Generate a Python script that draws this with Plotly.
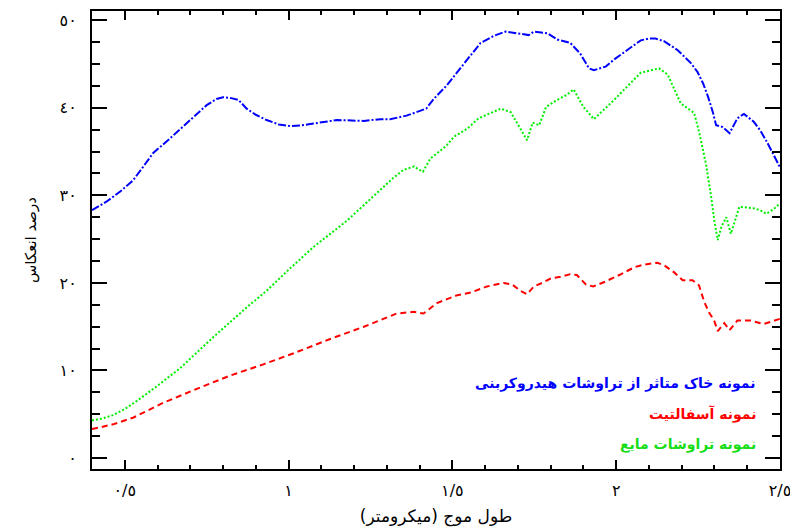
import plotly.graph_objects as go

# Reflectance spectra (wavelength in micrometres, reflectance in percent)
soil_wl = [0.400, 0.445, 0.485, 0.525, 0.555, 0.586, 0.638, 0.700, 0.750, 0.780,
           0.800, 0.825, 0.847, 0.872, 0.900, 0.933, 0.970, 1.005, 1.040, 1.076,
           1.148, 1.230, 1.280, 1.310, 1.342, 1.360, 1.390, 1.420, 1.443, 1.470,
           1.484, 1.524, 1.555, 1.586, 1.626, 1.662, 1.698, 1.733, 1.749, 1.790,
           1.820, 1.860, 1.890, 1.905, 1.917, 1.932, 1.968, 1.993, 2.034, 2.075,
           2.100, 2.120, 2.146, 2.187, 2.228, 2.248, 2.265, 2.280, 2.295, 2.305,
           2.325, 2.346, 2.370, 2.390, 2.420, 2.440, 2.463, 2.500]
soil_refl = [28.3, 29.3, 30.4, 31.7, 33.2, 34.8, 36.5, 38.6, 40.3, 41.0,
             41.2, 41.1, 40.9, 39.9, 39.2, 38.6, 38.1, 37.9, 38.0, 38.2,
             38.6, 38.5, 38.7, 38.7, 39.0, 39.1, 39.5, 39.9, 41.0, 42.0,
             42.6, 44.5, 46.0, 47.4, 48.2, 48.7, 48.5, 48.3, 48.7, 48.5,
             47.8, 47.4, 46.2, 45.3, 44.5, 44.3, 44.7, 45.5, 46.6, 47.7,
             47.9, 47.9, 47.6, 46.6, 45.1, 44.1, 42.8, 41.3, 39.5, 38.0,
             37.8, 37.1, 38.8, 39.3, 38.4, 37.4, 35.9, 33.2]

asph_wl = [0.400, 0.464, 0.525, 0.617, 0.720, 0.820, 0.923, 1.025, 1.127, 1.230,
           1.330, 1.382, 1.412, 1.453, 1.515, 1.556, 1.606, 1.657, 1.683, 1.708,
           1.728, 1.749, 1.774, 1.800, 1.830, 1.860, 1.880, 1.908, 1.930, 1.964,
           2.015, 2.056, 2.086, 2.126, 2.147, 2.177, 2.203, 2.233, 2.253, 2.269,
           2.284, 2.299, 2.310, 2.330, 2.346, 2.370, 2.410, 2.450, 2.500]
asph_refl = [3.3, 3.85, 4.6, 6.3, 7.9, 9.4, 10.7, 12.1, 13.6, 15.0,
             16.5, 16.7, 16.5, 17.7, 18.6, 18.9, 19.6, 20.0, 19.8, 19.1,
             18.7, 19.6, 20.0, 20.5, 20.7, 21.0, 20.9, 19.8, 19.6, 20.1,
             21.0, 21.8, 22.1, 22.3, 22.0, 21.2, 20.3, 20.3, 19.7, 17.8,
             16.6, 15.7, 14.5, 15.4, 14.6, 15.7, 15.7, 15.3, 15.9]

liq_wl = [0.400, 0.430, 0.464, 0.500, 0.536, 0.598, 0.670, 0.770, 0.872, 0.933,
          1.000, 1.076, 1.178, 1.280, 1.320, 1.350, 1.383, 1.395, 1.410, 1.433,
          1.454, 1.480, 1.505, 1.545, 1.580, 1.620, 1.648, 1.678, 1.704, 1.728,
          1.745, 1.765, 1.786, 1.820, 1.850, 1.870, 1.900, 1.932, 1.983, 2.034,
          2.075, 2.131, 2.157, 2.197, 2.238, 2.254, 2.274, 2.290, 2.300, 2.310,
          2.322, 2.336, 2.350, 2.376, 2.400, 2.422, 2.440, 2.458, 2.480, 2.500]
liq_refl = [4.3, 4.5, 4.9, 5.6, 6.5, 8.2, 10.3, 13.8, 17.2, 19.1,
            21.5, 24.1, 27.1, 30.6, 32.0, 32.9, 33.3, 33.0, 32.7, 34.2,
            34.8, 35.6, 36.7, 37.6, 38.8, 39.5, 39.9, 39.5, 37.8, 36.3,
            38.3, 38.0, 40.1, 40.9, 41.5, 42.1, 40.1, 38.7, 40.5, 42.4,
            44.0, 44.5, 43.8, 40.5, 39.4, 37.1, 33.6, 29.8, 27.0, 24.9,
            26.5, 27.5, 25.6, 28.7, 28.6, 28.5, 28.3, 27.9, 28.4, 29.1]

x_tick_vals = [0.5, 1.0, 1.5, 2.0, 2.5]
x_tick_text = ["٠/٥", "١", "١/٥", "٢", "٢/٥"]
y_tick_vals = [0, 10, 20, 30, 40, 50]
y_tick_text = ["٠", "١٠", "٢٠", "٣٠", "٤٠", "٥٠"]

series_names = ["نمونه خاک متاثر از تراوشات هیدروکربنی",
                "نمونه آسفالتیت",
                "نمونه تراوشات مایع"]

BLUE = "#0000ff"
RED = "#ff0000"
GREEN = "#00ee00"

fig = go.Figure()
fig.add_trace(go.Scatter(x=soil_wl, y=soil_refl, mode="lines", name=series_names[0],
                         line=dict(color=BLUE, width=2, dash="8px,2px,2px,2px")))
fig.add_trace(go.Scatter(x=asph_wl, y=asph_refl, mode="lines", name=series_names[1],
                         line=dict(color=RED, width=2, dash="6px,4px")))
fig.add_trace(go.Scatter(x=liq_wl, y=liq_refl, mode="lines", name=series_names[2],
                         line=dict(color=GREEN, width=2, dash="2px,2px")))

# in-plot labels stand in for a legend
label_y = [8.5, 5.0, 1.6]
label_colors = [BLUE, RED, "#14dd14"]
for name, ly, col in zip(series_names, label_y, label_colors):
    fig.add_annotation(x=2.434, y=ly, text="<b>" + name + "</b>", showarrow=False,
                       xanchor="right", yanchor="middle",
                       font=dict(family="DejaVu Sans", size=14, color=col))

axis_common = dict(showline=True, linecolor="black", linewidth=2, mirror="ticks",
                   ticks="inside", tickcolor="black", tickwidth=2,
                   showgrid=False, zeroline=False, automargin=False,
                   ticklabeloverflow="allow",
                   tickfont=dict(family="DejaVu Sans", size=16, color="black"))

fig.update_xaxes(range=[0.4, 2.5], tickvals=x_tick_vals, ticktext=x_tick_text,
                 ticklen=9, ticklabelstandoff=6,
                 minor=dict(dtick=0.1, tick0=0.4, ticks="inside", ticklen=4,
                            tickcolor="black", tickwidth=2),
                 title=dict(text="طول موج (میکرومتر)", standoff=12,
                            font=dict(family="DejaVu Sans", size=17, color="black")),
                 **axis_common)
fig.update_yaxes(range=[-1.25, 51.05], tickvals=y_tick_vals, ticktext=y_tick_text,
                 ticklen=15, ticklabelstandoff=10,
                 minor=dict(dtick=2.5, tick0=0, ticks="inside", ticklen=8,
                            tickcolor="black", tickwidth=2),
                 title=dict(text="درصد انعکاس", standoff=19,
                            font=dict(family="DejaVu Sans", size=15, color="black")),
                 **axis_common)

fig.update_layout(width=790, height=527, margin=dict(l=92, r=10, t=11, b=58),
                  paper_bgcolor="white", plot_bgcolor="white", showlegend=False)

fig.write_html("out.html")
